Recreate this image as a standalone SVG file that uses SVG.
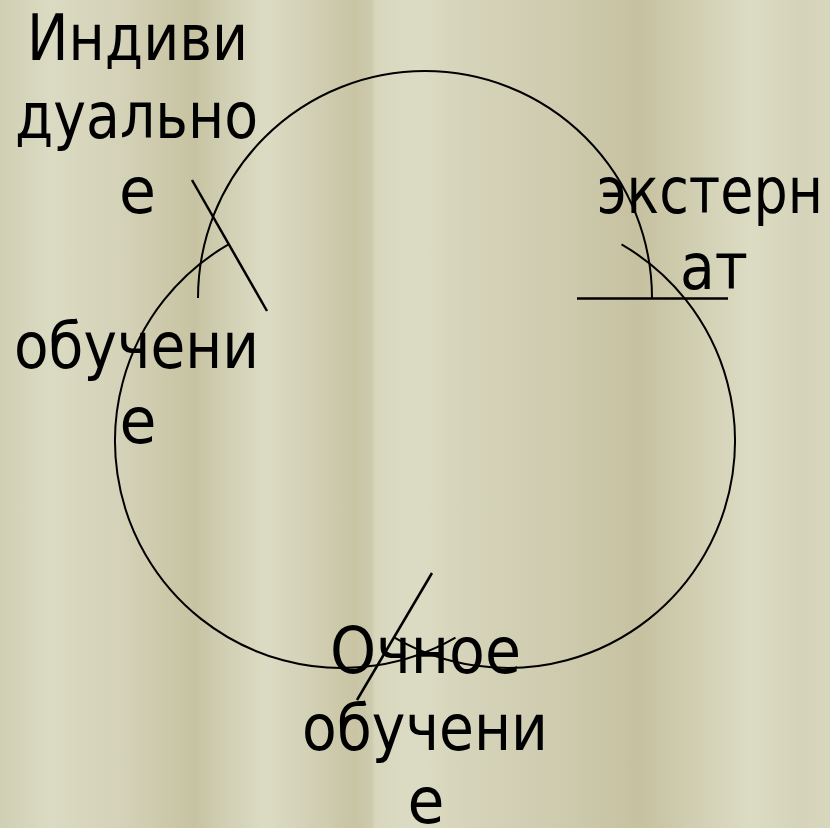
<svg xmlns="http://www.w3.org/2000/svg" width="830" height="828" viewBox="0 0 830 828">
<defs>
<linearGradient id="bg" x1="0" y1="0" x2="830" y2="0" gradientUnits="userSpaceOnUse">
<stop offset="0" stop-color="#D0CFB3"/>
<stop offset="0.06" stop-color="#DBDBC3"/>
<stop offset="0.145" stop-color="#D4D2B8"/>
<stop offset="0.235" stop-color="#C7C3A2"/>
<stop offset="0.26" stop-color="#CECCAF"/>
<stop offset="0.32" stop-color="#DCDCC4"/>
<stop offset="0.36" stop-color="#D5D3B9"/>
<stop offset="0.428" stop-color="#C8C4A4"/>
<stop offset="0.448" stop-color="#CDCBAE"/>
<stop offset="0.452" stop-color="#D8D7BE"/>
<stop offset="0.504" stop-color="#DCDCC4"/>
<stop offset="0.566" stop-color="#D5D3B9"/>
<stop offset="0.675" stop-color="#CECBAF"/>
<stop offset="0.771" stop-color="#C6C1A0"/>
<stop offset="0.843" stop-color="#D2D0B4"/>
<stop offset="0.904" stop-color="#DCDCC4"/>
<stop offset="0.964" stop-color="#D5D4BA"/>
<stop offset="1" stop-color="#D8D7BE"/>
</linearGradient>
</defs>
<style>
.arc{fill:none;stroke:#000;stroke-width:2}
.tick{fill:none;stroke:#000;stroke-width:2.5}
.lbl{font-family:"DejaVu Sans","Verdana",sans-serif;font-size:64px;fill:#000;text-anchor:middle}
</style>
<rect x="0" y="0" width="830" height="828" fill="url(#bg)"/>
<g id="connectors">
<path class="arc" d="M 198 298 A 227 227 0 0 1 652 298"/>
<path class="arc" d="M 621.5 244.4 A 227 227 0 0 1 394.5 637.6"/>
<path class="arc" d="M 455.5 637.6 A 227 227 0 0 1 228.5 244.4"/>
<line class="tick" x1="192" y1="180" x2="267" y2="311"/>
<line class="tick" x1="577" y1="298.5" x2="728" y2="298.5"/>
<line class="tick" x1="432" y1="573" x2="357" y2="700"/>
</g>
<g id="node-individual">
<text class="lbl" x="137.5" y="60" textLength="221" lengthAdjust="spacingAndGlyphs">Индиви</text>
<text class="lbl" x="136.5" y="138" textLength="243" lengthAdjust="spacingAndGlyphs">дуально</text>
<text class="lbl" x="137.5" y="213" textLength="37" lengthAdjust="spacingAndGlyphs">е</text>
</g>
<g id="node-external">
<text class="lbl" x="710" y="213" textLength="226" lengthAdjust="spacingAndGlyphs">экстерн</text>
<text class="lbl" x="714" y="289" textLength="68" lengthAdjust="spacingAndGlyphs">ат</text>
</g>
<g id="node-training">
<text class="lbl" x="136.5" y="368" textLength="245" lengthAdjust="spacingAndGlyphs">обучени</text>
<text class="lbl" x="138" y="443" textLength="37" lengthAdjust="spacingAndGlyphs">е</text>
</g>
<g id="node-fulltime">
<text class="lbl" x="425.5" y="673" textLength="191" lengthAdjust="spacingAndGlyphs">Очное</text>
<text class="lbl" x="425" y="750" textLength="246" lengthAdjust="spacingAndGlyphs">обучени</text>
<text class="lbl" x="426" y="823" textLength="37" lengthAdjust="spacingAndGlyphs">е</text>
</g>
</svg>
